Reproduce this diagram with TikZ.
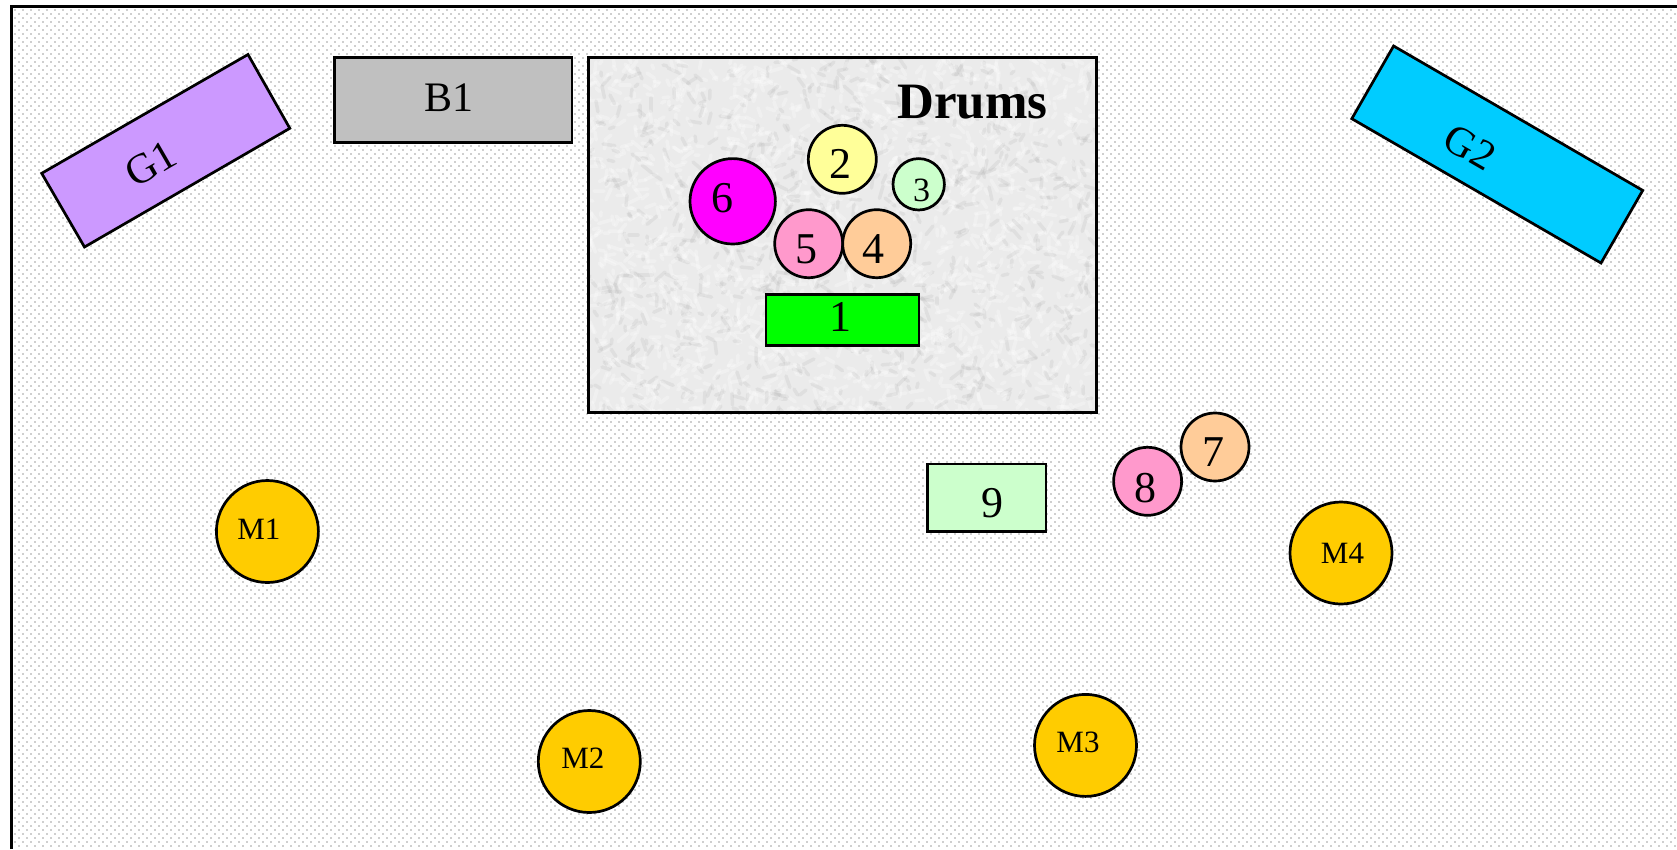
\documentclass[tikz,border=0pt]{standalone}
\usepackage{fontspec}
\setmainfont{Liberation Serif}
\tikzset{
  px/.style={x=1pt,y=-1pt},
  shp/.style={draw=black,line width=2.7pt,inner sep=0pt,outer sep=0pt},
  disc/.style={shp,circle,minimum size=#1},
  lbl/.style={inner sep=0pt,outer sep=0pt,text=black,font=\fontsize{#1}{#1}\selectfont},
  lbl/.default=44,
}
\definecolor{cG1}{HTML}{CC99FF}\definecolor{cB1}{HTML}{C0C0C0}\definecolor{cG2}{HTML}{00CCFF}
\definecolor{cM}{HTML}{FFCC00}\definecolor{cY}{HTML}{FFFF99}\definecolor{cLG}{HTML}{CCFFCC}
\definecolor{cP}{HTML}{FF99CC}\definecolor{cO}{HTML}{FFCC99}\definecolor{cDot}{HTML}{CFCFCF}
\definecolor{cTex}{HTML}{EBEBEB}\definecolor{cMag}{HTML}{FF00FF}\definecolor{cGr}{HTML}{00FF00}
\begin{document}
\begin{tikzpicture}[px]
\useasboundingbox (0,0) rectangle (1677,849);
\fill[white] (0,0) rectangle (1677,849);
% dotted ground
\begin{scope}
\clip (12,7) rectangle (1677,849);
\foreach \r in {0,...,104}{
  \pgfmathsetmacro{\ya}{10+8*\r}
  \pgfmathsetmacro{\yb}{14+8*\r}
  \draw[cDot,line width=2pt,dash pattern=on 2pt off 6pt] (14,\ya) -- (1677,\ya);
  \draw[cDot,line width=2pt,dash pattern=on 2pt off 6pt] (18,\yb) -- (1677,\yb);
}
\end{scope}
\draw[line width=2.4pt] (11.5,849) |- (1677,6.5);
% drum riser
\node[shp,fill=cTex,anchor=north west,minimum width=508pt,minimum height=355pt] (riser) at (588.5,57.5) {};
\begin{scope}
\clip (589.5,58.5) rectangle (1095.7,411.7);
\pgfmathsetseed{4711}
\foreach \i in {1,...,2600}{
  \pgfmathsetmacro{\xx}{589+random(0,507)}
  \pgfmathsetmacro{\yy}{58+random(0,354)}
  \pgfmathsetmacro{\aa}{random(0,180)}
  \pgfmathsetmacro{\ll}{random(4,13)}
  \pgfmathsetmacro{\cc}{random(0,2)}
  \ifdim\cc pt>0.5pt
    \draw[white,opacity=.28,line width=3.5pt,line cap=round] (\xx,\yy) -- ++(\aa:\ll);
  \else
    \draw[black!35,opacity=.16,line width=3.5pt,line cap=round] (\xx,\yy) -- ++(\aa:\ll);
  \fi
}
\end{scope}
\draw[line width=2.2pt] (riser.north west) rectangle (riser.south east);
\node[anchor=base west,inner sep=0pt,font=\fontsize{51}{51}\selectfont\bfseries] (drums) at (897,118.3) {Drums};
% kit
\node[disc=68pt,fill=cY] (c2) at (842.3,159.3) {};
\node[disc=51.4pt,fill=cLG] (c3) at (918.7,184.3) {};
\node[disc=85.4pt,fill=cMag] (c6) at (732.7,201.3) {};
\node[disc=68pt,fill=cP] (c5) at (808.7,243.7) {};
\node[disc=68pt,fill=cO] (c4) at (876.7,243.7) {};
\node[shp,fill=cGr,minimum width=153pt,minimum height=51pt] (c1) at (842.5,320.2) {};
\node[lbl] (t2) at (840,164.3) {2};
\node[lbl=34] (t3) at (921.7,190.7) {3};
\node[lbl] (t6) at (722,197.7) {6};
\node[lbl] (t5) at (806,249.3) {5};
\node[lbl] (t4) at (873.5,249) {4};
\node[lbl] (t1) at (840,316.7) {1};
% guitars and bass
\draw[shp,fill=cG1] (248,54.5) -- (289.8,128.3) -- (84.5,247) -- (41.7,173.3) -- cycle;
\node[lbl=42,rotate=30] (tG1) at (151,163.6) {G1};
\node[shp,fill=cB1,minimum width=237.2pt,minimum height=84.4pt] (b1) at (453.4,100) {};
\node[lbl=42] (tB1) at (449,97.5) {B1};
\draw[shp,fill=cG2] (1393.6,46) -- (1642.7,190.4) -- (1601,263) -- (1351.8,118.7) -- cycle;
\node[lbl=42,rotate=-30] (tG2) at (1470,147.6) {G2};
% floor
\node[shp,fill=cLG,minimum width=118.7pt,minimum height=67.5pt] (c9) at (986.6,497.7) {};
\node[lbl] (t9) at (992.4,502.7) {9};
\node[disc=68pt,fill=cO] (c7) at (1215,447) {};
\node[lbl] (t7) at (1213.2,452.4) {7};
\node[disc=68pt,fill=cP] (c8) at (1147.6,481.3) {};
\node[lbl] (t8) at (1145.4,487.7) {8};
\node[disc=102pt,fill=cM] (m1) at (267.4,531.5) {};
\node[lbl=31] (tm1) at (258.8,529.4) {M1};
\node[disc=102pt,fill=cM] (m2) at (589.3,761.5) {};
\node[lbl=31] (tm2) at (582.9,758.3) {M2};
\node[disc=102pt,fill=cM] (m3) at (1085.5,745.4) {};
\node[lbl=31] (tm3) at (1078,742) {M3};
\node[disc=102pt,fill=cM] (m4) at (1341,553) {};
\node[lbl=31] (tm4) at (1342.5,553) {M4};
\end{tikzpicture}
\end{document}
